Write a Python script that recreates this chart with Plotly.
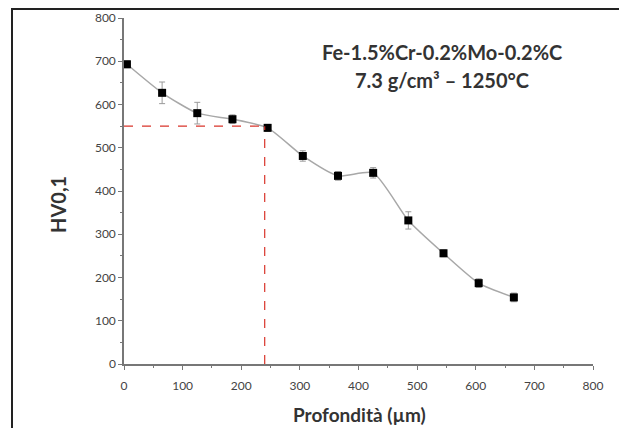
import plotly.graph_objects as go

depth_um = [5, 65, 125, 185, 245, 305, 365, 425, 485, 545, 605, 665]
hardness_hv = [693, 627, 580, 566, 546, 481, 435, 442, 332, 256, 187, 154]
hardness_err = [8, 25, 25, 10, 8, 12, 10, 12, 20, 8, 10, 10]
x_ticks = [0, 100, 200, 300, 400, 500, 600, 700, 800]
y_ticks = [0, 100, 200, 300, 400, 500, 600, 700, 800]
threshold_hv = 550
threshold_depth = 240

FONT = "Lato"
TXT = "#333333"

fig = go.Figure()
fig.add_trace(go.Scatter(
    x=depth_um, y=hardness_hv,
    mode="lines+markers",
    line=dict(color="#a8a8a8", width=1.5, shape="spline", smoothing=0.6),
    marker=dict(symbol="square", size=8, color="black"),
    error_y=dict(type="data", array=hardness_err, color="#9a9a9a", thickness=1, width=3),
    showlegend=False,
))

fig.add_shape(type="line", xref="x", yref="y", x0=0, x1=threshold_depth,
              y0=threshold_hv, y1=threshold_hv,
              line=dict(color="#d9342b", width=1.2, dash="dash"))
fig.add_shape(type="line", xref="x", yref="y", x0=threshold_depth, x1=threshold_depth,
              y0=0, y1=threshold_hv,
              line=dict(color="#d9342b", width=1.2, dash="dash"))

# outer frame of the original figure
fig.add_shape(type="rect", xref="paper", yref="paper",
              x0=-0.2388, x1=1.3, y0=-0.4, y1=1.026,
              line=dict(color="#222222", width=2), fillcolor="rgba(0,0,0,0)", layer="below")

fig.add_annotation(x=0.679, y=0.902, xref="paper", yref="paper", xanchor="center", yanchor="middle",
                   text="<b>Fe-1.5%Cr-0.2%Mo-0.2%C</b>", showarrow=False,
                   font=dict(family=FONT, size=20, color=TXT))
fig.add_annotation(x=0.679, y=0.821, xref="paper", yref="paper", xanchor="center", yanchor="middle",
                   text="<b>7.3 g/cm³ – 1250°C</b>", showarrow=False,
                   font=dict(family=FONT, size=20, color=TXT))

# axis titles
fig.add_annotation(x=-0.1407, y=0.4595, xref="paper", yref="paper", xanchor="center", yanchor="middle",
                   text="<b>HV0,1</b>", textangle=-90, showarrow=False,
                   font=dict(family=FONT, size=20, color=TXT))
fig.add_annotation(x=0.503, y=-0.145, xref="paper", yref="paper", xanchor="center", yanchor="middle",
                   text="<b>Profondità (µm)</b>", showarrow=False,
                   font=dict(family=FONT, size=19, color=TXT))

axis_common = dict(
    range=[0, 800], ticks="outside", ticklen=4, tickwidth=1,
    tickcolor="#777777", showline=True, linecolor="#777777", linewidth=1.5,
    showgrid=False, zeroline=False, automargin=False,
    tickfont=dict(family=FONT, size=12, color="#444444"),
    minor=dict(dtick=50, ticks="outside", ticklen=2, tickcolor="#777777"),
)

fig.update_layout(
    width=619, height=420,
    margin=dict(l=116, r=34, t=10, b=64),
    paper_bgcolor="white", plot_bgcolor="white",
    font=dict(family=FONT, color=TXT),
    xaxis=dict(tickvals=x_ticks, ticklabelstandoff=6, **axis_common),
    yaxis=dict(tickvals=y_ticks, **axis_common),
)

fig.write_html("out.html")
